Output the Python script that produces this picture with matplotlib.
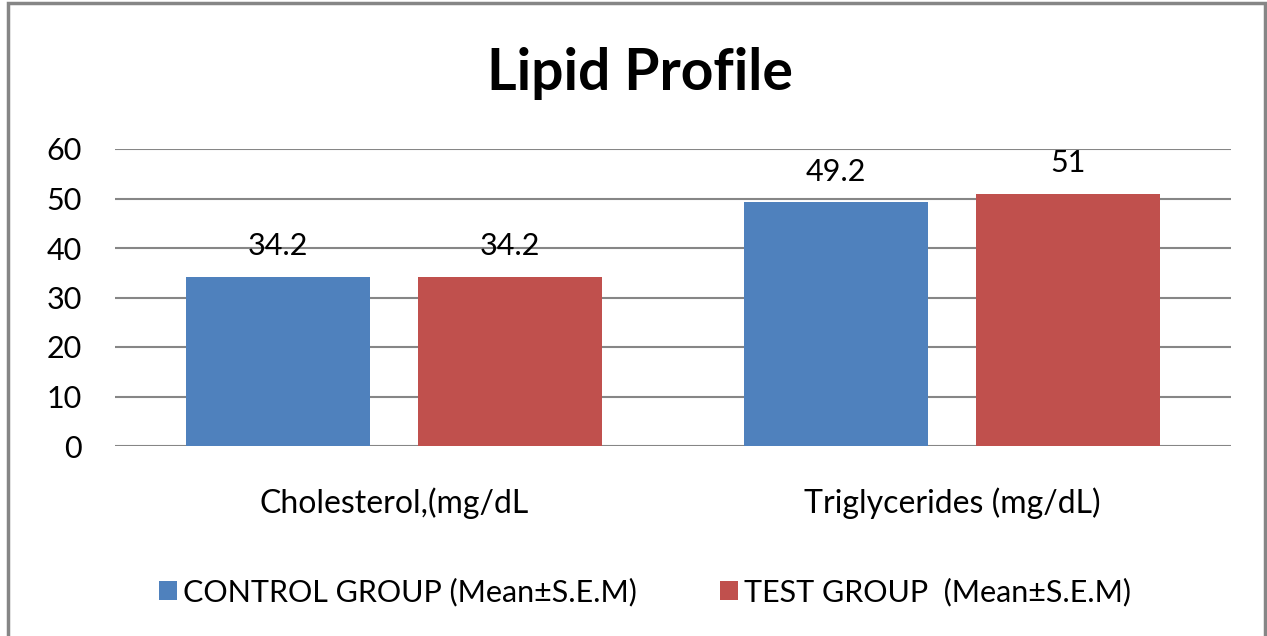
import matplotlib.pyplot as plt
import numpy as np
from matplotlib.patches import Rectangle

# data
categories = ["Cholesterol,(mg/dL", "Triglycerides (mg/dL)"]
series_names = ["CONTROL GROUP (Mean\u00b1S.E.M)", "TEST GROUP  (Mean\u00b1S.E.M)"]
control = [34.2, 49.2]
test = [34.2, 51]
value_labels = [["34.2", "49.2"], ["34.2", "51"]]
yticks = [0, 10, 20, 30, 40, 50, 60]

colors = ["#4F81BD", "#C0504D"]
plt.rcParams['font.family'] = ['Lato', 'DejaVu Sans']

fig = plt.figure(figsize=(12.67, 6.36), dpi=100)
fig.patch.set_facecolor('white')
ax = fig.add_axes([115/1267, 1 - 446/636, 1116/1267, 297/636])

x = np.arange(len(categories))
w = 0.33
off = 0.208
b1 = ax.bar(x - off, control, w, color=colors[0], label=series_names[0], zorder=3)
b2 = ax.bar(x + off, test, w, color=colors[1], label=series_names[1], zorder=3)

for bars, labs in zip([b1, b2], value_labels):
    for b, t in zip(bars, labs):
        ax.text(b.get_x() + b.get_width()/2, b.get_height() + 3.3, t,
                ha='center', va='bottom', fontsize=22, color='#000000')

ax.set_xlim(-0.5, 1.5)
ax.set_ylim(0, 60)
ax.set_yticks(yticks)
ax.set_xticks(x)
ax.set_xticklabels(categories, fontsize=23)
ax.tick_params(axis='y', labelsize=22, length=0, pad=24)
ax.tick_params(axis='x', length=0, pad=30)
ax.grid(axis='y', color='#868686', linewidth=1.5, zorder=0)
for s in ax.spines.values():
    s.set_visible(False)

fig.text(640/1267, 1 - 73/636, "Lipid Profile", ha='center', va='center',
         fontsize=41, fontweight='bold')

leg = fig.legend(loc='center', bbox_to_anchor=(645/1267, 1 - 592/636), ncol=2,
                 frameon=False, fontsize=22, handlelength=0.6, handleheight=0.6,
                 handletextpad=0.2, columnspacing=2.7)

fig.patches.append(Rectangle((8/1267, -0.05), (1265 - 8)/1267, 1.05 - 3/636,
                             transform=fig.transFigure, fill=False,
                             edgecolor='#868686', linewidth=2.5))

fig.savefig("out.png", dpi=100)
